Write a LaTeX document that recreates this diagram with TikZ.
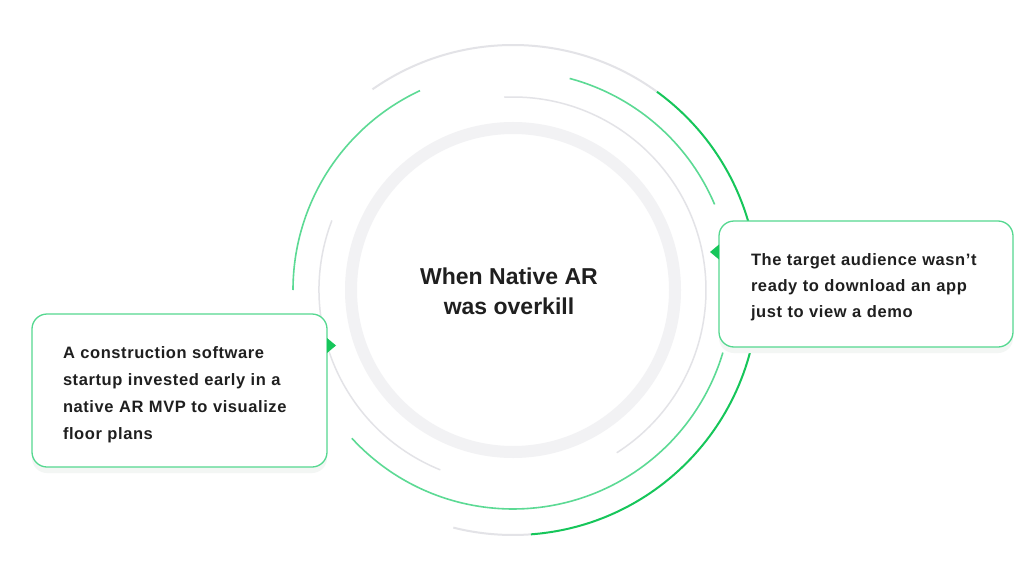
\documentclass[tikz,border=0pt]{standalone}
\usepackage{fontspec}
\setmainfont{Liberation Sans}
\newfontfamily\bodyfont[LetterSpace=3.5]{Liberation Sans}
\usetikzlibrary{calc,shadows}
\definecolor{ringgray}{HTML}{F2F2F4}
\definecolor{thingray}{HTML}{E3E3E7}
\definecolor{lightgreen}{HTML}{5CDA94}
\definecolor{darkgreen}{HTML}{16C65A}
\definecolor{boxgreen}{HTML}{55D890}
\definecolor{txt}{HTML}{1F1F1F}
\definecolor{shadowc}{HTML}{F3F6F4}
\newcommand\ringarc[4]{\draw[#1] ($(C)+(#3:#2)$) arc[start angle=#3,end angle=#4,radius=#2];}
\begin{document}
\begin{tikzpicture}[x=1pt,y=1pt,
  thinarc/.style={thingray,line width=1.5pt},
  greenarc/.style={lightgreen,line width=1.6pt},
  outerarc/.style={darkgreen,line width=2pt},
  outergray/.style={thingray,line width=2pt},
  notebox/.style={draw=boxgreen,line width=1.3pt,fill=white,rounded corners=15pt,
    outer sep=0pt,align=left,text=txt,
    font=\bodyfont\bfseries\fontsize{16.5}{26.7}\selectfont,
    drop shadow={shadow xshift=0pt,shadow yshift=-6pt,fill=shadowc,opacity=1}},
  pointer/.style={fill=darkgreen},
  titletext/.style={font=\bfseries\fontsize{23}{30}\selectfont,align=center,text=txt}]
\useasboundingbox[fill=white] (0,0) rectangle (1024,-583);
\coordinate (C) at (513,-290);
% inner thick ring
\draw[ringgray,line width=12pt] (C) circle[radius=162];
% thin gray arcs
\ringarc{thinarc}{193}{92.6}{-57.5}
\ringarc{thinarc}{194}{159}{248}
% light green arcs
\ringarc{greenarc}{220}{115}{180}
\ringarc{greenarc}{219}{75}{23}
\ringarc{greenarc}{219}{222.6}{343.4}
% outer arcs
\ringarc{outergray}{245}{54}{125}
\ringarc{outergray}{245}{255.9}{274.2}
\ringarc{outerarc}{245}{-85.8}{54}
% boxes
\node[notebox,anchor=north west,minimum width=295pt,minimum height=153pt,
  text width=233pt,inner xsep=31pt] (lbox) at (32,-314)
  {\rule{0pt}{20.5pt}A construction software\\startup invested early in a\\native AR MVP to visualize\\floor plans};
\node[notebox,anchor=north west,minimum width=294pt,minimum height=126pt,
  text width=230pt,inner xsep=32pt,
  font=\bodyfont\bfseries\fontsize{16.5}{26}\selectfont] (rbox) at (719,-221)
  {\rule{0pt}{18.5pt}The target audience wasn’t\\ready to download an app\\just to view a demo};
% pointers
\fill[pointer] ($(lbox.north east)+(0,-24)$) -- ++(9,-7.5) -- ++(-9,-7.5) -- cycle;
\fill[pointer] ($(rbox.north west)+(0,-23.5)$) -- ++(-9,-7.5) -- ++(9,-7.5) -- cycle;
% title
\node[titletext] (title) at (509,-291) {When Native AR\\was overkill};
\end{tikzpicture}
\end{document}
